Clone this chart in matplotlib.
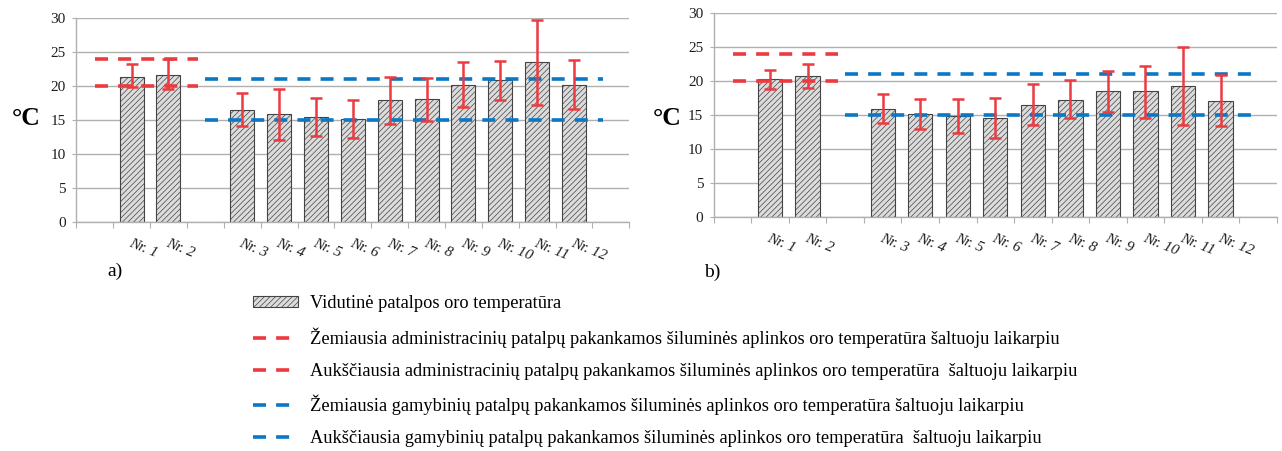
import matplotlib
matplotlib.use("Agg")
import matplotlib.pyplot as plt
import numpy as np

plt.rcParams['font.family'] = ['Liberation Serif', 'DejaVu Serif']
plt.rcParams['hatch.linewidth'] = 0.5

# Duomenys (nuskaityti nuo paveikslo)
rooms = ['Nr. 1', 'Nr. 2', 'Nr. 3', 'Nr. 4', 'Nr. 5', 'Nr. 6',
         'Nr. 7', 'Nr. 8', 'Nr. 9', 'Nr. 10', 'Nr. 11', 'Nr. 12']

temp_a = [21.4, 21.7, 16.5, 15.8, 15.4, 15.1, 17.9, 18.1, 20.2, 20.9, 23.5, 20.2]
low_a = [19.8, 19.5, 14.1, 12.0, 12.6, 12.3, 14.4, 14.9, 16.9, 17.9, 17.2, 16.6]
high_a = [23.2, 24.0, 18.9, 19.6, 18.2, 18.0, 21.4, 21.2, 23.6, 23.7, 29.7, 23.8]

temp_b = [20.3, 20.7, 15.9, 15.1, 14.9, 14.5, 16.5, 17.2, 18.5, 18.6, 19.3, 17.1]
low_b = [18.8, 19.0, 13.8, 12.9, 12.3, 11.6, 13.5, 14.5, 15.4, 14.6, 13.6, 13.4]
high_b = [21.6, 22.5, 18.1, 17.4, 17.4, 17.5, 19.6, 20.2, 21.5, 22.3, 25.0, 20.9]

admin_limits = [20, 24]   # administracines patalpos
prod_limits = [15, 21]    # gamybines patalpos

legend_labels = [
    'Vidutinė patalpos oro temperatūra',
    'Žemiausia administracinių patalpų pakankamos šiluminės aplinkos oro temperatūra šaltuoju laikarpiu',
    'Aukščiausia administracinių patalpų pakankamos šiluminės aplinkos oro temperatūra  šaltuoju laikarpiu',
    'Žemiausia gamybinių patalpų pakankamos šiluminės aplinkos oro temperatūra šaltuoju laikarpiu',
    'Aukščiausia gamybinių patalpų pakankamos šiluminės aplinkos oro temperatūra  šaltuoju laikarpiu',
]

RED = '#ec3a40'
BLUE = '#0a78c4'
GRID = '#b0b0b0'
DASH = (3.6, 2.8)

# pirmos dvi patalpos - administracines, kitos - gamybines (tarpas tarp grupiu)
pos = np.array([1, 2] + list(range(4, 14)))
n_slots = 15


def draw_panel(ax, temp, low, high, blue_end):
    temp = np.array(temp)
    yerr = [temp - np.array(low), np.array(high) - temp]

    ax.set_axisbelow(True)
    ax.yaxis.grid(True, color=GRID, linewidth=1.0)
    bars = ax.bar(pos, temp, width=0.65, color='#dcdcdc', edgecolor='#444444',
                  linewidth=0.8, hatch='//////', zorder=2)

    lines = []
    for y in admin_limits:
        l, = ax.plot([0, 2.8], [y, y], color=RED, linewidth=2.6,
                     dashes=DASH, zorder=3)
        lines.append(l)
    for y in prod_limits:
        l, = ax.plot([3.0, blue_end], [y, y], color=BLUE, linewidth=2.6,
                     dashes=DASH, zorder=3)
        lines.append(l)

    ax.errorbar(pos, temp, yerr=yerr, fmt='none', ecolor=RED, elinewidth=1.8,
                capsize=4, capthick=1.8, zorder=4)

    ax.set_xlim(-0.5, n_slots - 0.5)
    ax.set_ylim(0, 30)
    ax.set_yticks(range(0, 31, 5))
    for s in ['top', 'right']:
        ax.spines[s].set_visible(False)
    for s in ['left', 'bottom']:
        ax.spines[s].set_color(GRID)
        ax.spines[s].set_linewidth(1.0)

    ax.set_xticks(np.arange(-0.5, n_slots, 1.0))
    ax.set_xticklabels([])
    ax.tick_params(axis='x', which='major', length=4, color=GRID)
    ax.set_xticks(pos, minor=True)
    ax.set_xticklabels(rooms, minor=True, rotation=-22, ha='left',
                       rotation_mode='anchor', fontsize=11, style='italic',
                       color='#1e1e1e')
    ax.tick_params(axis='x', which='minor', length=0, pad=11)
    ax.tick_params(axis='y', length=3, color=GRID, labelsize=11,
                   labelcolor='#1e1e1e', pad=4.5)
    return bars, lines


fig = plt.figure(figsize=(12.82, 4.51), dpi=100)
ax_a = fig.add_axes([76.3 / 1282, 1 - 221.5 / 451, 553 / 1282, 203.2 / 451])
ax_b = fig.add_axes([713.8 / 1282, 1 - 216.8 / 451, 563 / 1282, 203.5 / 451])

bars, lines = draw_panel(ax_a, temp_a, low_a, high_a, 13.8)
draw_panel(ax_b, temp_b, low_b, high_b, 14.0)

for x in [12 / 1282, 653 / 1282]:
    fig.text(x, 1 - 118 / 451, '°C', fontsize=18.5, fontweight='bold',
             va='center', ha='left')

fig.text(107 / 1282, 1 - 271 / 451, 'a)', fontsize=14, va='center')
fig.text(704 / 1282, 1 - 272 / 451, 'b)', fontsize=14, va='center')

fig.legend([bars] + lines, legend_labels, loc='upper left',
           bbox_to_anchor=(253 / 1282, 1 - 295 / 451), frameon=False,
           fontsize=13.2, handlelength=2.45, handleheight=0.55,
           handletextpad=0.65, labelspacing=0.82, borderpad=0,
           borderaxespad=0)

fig.savefig('out.png', dpi=100)
